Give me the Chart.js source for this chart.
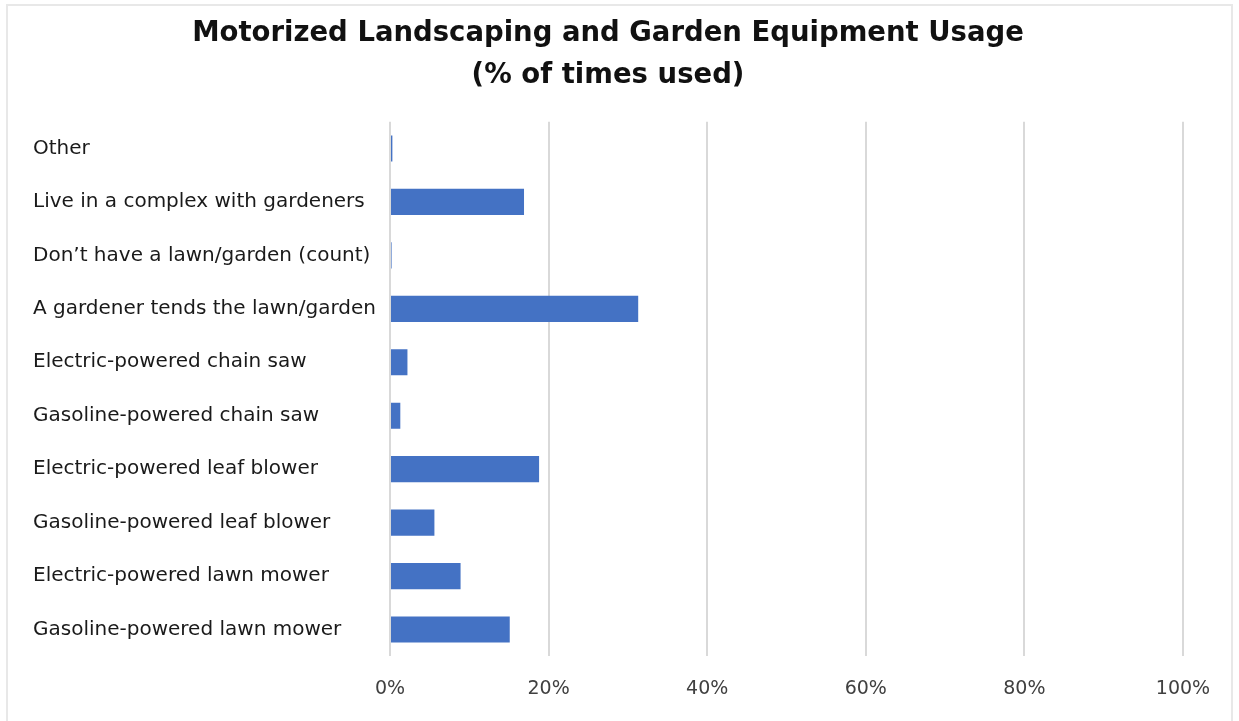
<!DOCTYPE html>
<html>
<head>
<meta charset="utf-8">
<title>Motorized Landscaping and Garden Equipment Usage</title>
<script src="https://cdn.jsdelivr.net/npm/chart.js@4/dist/chart.umd.min.js"></script>
<style>
    html, body { margin: 0; padding: 0; background: #ffffff; }
    #wrap { position: relative; width: 1239px; height: 721px; overflow: hidden; }
    #frame {
        position: absolute; left: 6px; top: 4px; width: 1227px; height: 730px;
        border: 2px solid #e8e8e8; box-sizing: border-box; pointer-events: none;
    }
    canvas { position: absolute; left: 0; top: 0; }
</style>
</head>
<body>
<div id="wrap">
    <canvas id="usageChart" width="1239" height="721"></canvas>
    <div id="frame"></div>
</div>
<script>
    // ==================== DATA ====================
    const categories = [
        'Other',
        'Live in a complex with gardeners',
        'Don\u2019t have a lawn/garden (count)',
        'A gardener tends the lawn/garden',
        'Electric-powered chain saw',
        'Gasoline-powered chain saw',
        'Electric-powered leaf blower',
        'Gasoline-powered leaf blower',
        'Electric-powered lawn mower',
        'Gasoline-powered lawn mower'
    ];
    const usagePct = [0.3, 16.9, 0.2, 31.3, 2.2, 1.3, 18.8, 5.6, 8.9, 15.1];
    const titleLines = ['Motorized Landscaping and Garden Equipment Usage', '(% of times used)'];

    const FONT = "'DejaVu Sans', sans-serif";

    // ==================== CHART ====================
    const ctx = document.getElementById('usageChart').getContext('2d');
    new Chart(ctx, {
        type: 'bar',
        data: {
            labels: categories,
            datasets: [{
                label: 'Usage',
                data: usagePct,
                backgroundColor: '#4472c4',
                borderWidth: 0,
                barPercentage: 0.49,
                categoryPercentage: 1.0
            }]
        },
        options: {
            indexAxis: 'y',
            responsive: false,
            animation: false,
            layout: { padding: { left: 33, right: 56, top: 2, bottom: 0 } },
            plugins: {
                legend: { display: false },
                tooltip: { enabled: false },
                title: {
                    display: true,
                    text: titleLines,
                    color: '#111111',
                    font: { family: FONT, size: 27.5, weight: 'bold', lineHeight: 1.56 },
                    padding: { top: 10, bottom: 24 }
                }
            },
            scales: {
                x: {
                    min: 0,
                    max: 100,
                    ticks: {
                        stepSize: 20,
                        color: '#404040',
                        font: { family: FONT, size: 19 },
                        padding: 21,
                        callback: (v) => v + '%'
                    },
                    grid: { color: '#d9d9d9', lineWidth: 2, drawTicks: false },
                    border: { display: false }
                },
                y: {
                    // fixed width so the plot starts at the same x whatever the font
                    afterFit: (scale) => { scale.width = 357; },
                    ticks: {
                        color: '#1a1a1a',
                        font: { family: FONT, size: 20 },
                        crossAlign: 'far',
                        padding: 13
                    },
                    grid: { display: false },
                    border: { display: false }
                }
            }
        }
    });
</script>
</body>
</html>
